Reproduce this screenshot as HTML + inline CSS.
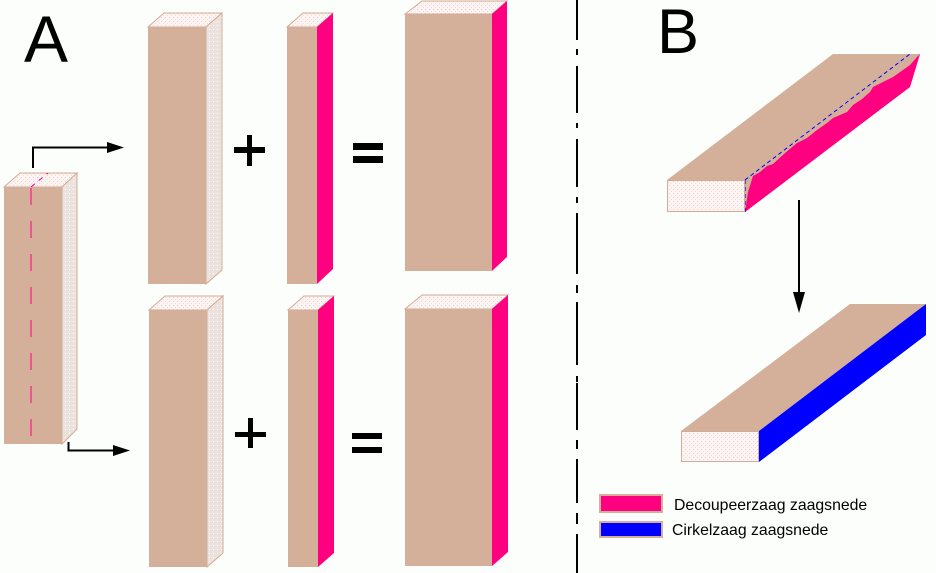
<!DOCTYPE html>
<html><head><meta charset="utf-8"><style>
html,body{margin:0;padding:0;background:#FCFEFC;}
svg{display:block;}
</style></head><body>
<svg width="936" height="573" viewBox="0 0 936 573" xmlns="http://www.w3.org/2000/svg">
<defs>
<pattern id="sd" width="4" height="4" patternUnits="userSpaceOnUse"><rect width="4" height="4" fill="#EBE2DE"/><rect x="1" y="1" width="1" height="1" fill="#FFFFFF"/></pattern>
<pattern id="td" width="4" height="4" patternUnits="userSpaceOnUse"><rect width="4" height="4" fill="#FBF4F2"/><rect x="1" y="1" width="1" height="1" fill="#EDCFCB"/><rect x="3" y="3" width="1" height="1" fill="#F3DEDA"/></pattern>
</defs>
<rect width="936" height="573" fill="#FCFEFC"/>

<!-- Letters -->
<text x="24" y="62" font-family="Liberation Sans, sans-serif" font-size="66">A</text>
<text x="657" y="53" font-family="Liberation Sans, sans-serif" font-size="63">B</text>

<!-- Left source block -->
<polygon points="4,187 20,173 77,173 62,187" fill="url(#td)" stroke="#D3AC94" stroke-width="1"/>
<polygon points="62,187 77,173 77,429 62,444" fill="url(#sd)" stroke="#D3AC94" stroke-width="1"/>
<rect x="4" y="187" width="58" height="257" fill="#D4B09A"/>
<line x1="31" y1="188" x2="31" y2="444" stroke="#FF0080" stroke-width="1" stroke-dasharray="17 16"/>
<line x1="31" y1="187" x2="48" y2="173" stroke="#FF0080" stroke-width="1" stroke-dasharray="5 5"/>

<!-- Left arrows -->
<polyline points="33,168 33,147.5 110,147.5" fill="none" stroke="#000" stroke-width="2"/>
<polygon points="107,142 124,147.5 107,153" fill="#000"/>
<polyline points="68.5,442 68.5,450.5 115,450.5" fill="none" stroke="#000" stroke-width="2"/>
<polygon points="113,445 130,450.5 113,456" fill="#000"/>

<!-- Top row -->
<polygon points="148,27 164,13 222,13 206,27" fill="url(#td)" stroke="#D3AC94" stroke-width="1"/>
<polygon points="206,27 222,13 222,270 206,284" fill="url(#sd)" stroke="#D3AC94" stroke-width="1"/>
<rect x="148" y="27" width="58" height="257" fill="#D4B09A"/>

<polygon points="287,27 303,13 333,13 317,27" fill="url(#td)" stroke="#D3AC94" stroke-width="1"/>
<polygon points="317,27 333,13 333,269 317,284" fill="#FF0080"/>
<rect x="287" y="27" width="30" height="257" fill="#D4B09A"/>

<polygon points="405,14 422,1 507,1 492,14" fill="url(#td)" stroke="#D3AC94" stroke-width="1"/>
<polygon points="492,14 507,1 507,257 492,271" fill="#FF0080"/>
<rect x="405" y="14" width="87" height="257" fill="#D4B09A"/>

<rect x="234" y="147" width="31" height="6" fill="#000"/>
<rect x="247" y="135" width="5" height="31" fill="#000"/>
<rect x="353" y="143" width="30" height="7" fill="#000"/>
<rect x="353" y="156" width="30" height="7" fill="#000"/>

<!-- Bottom row -->
<polygon points="149,310 165,296 223,296 207,310" fill="url(#td)" stroke="#D3AC94" stroke-width="1"/>
<polygon points="207,310 223,296 223,553 207,567" fill="url(#sd)" stroke="#D3AC94" stroke-width="1"/>
<rect x="149" y="310" width="58" height="257" fill="#D4B09A"/>

<polygon points="288,310 304,296 334,296 318,310" fill="url(#td)" stroke="#D3AC94" stroke-width="1"/>
<polygon points="318,310 334,296 334,553 318,567" fill="#FF0080"/>
<rect x="288" y="310" width="30" height="257" fill="#D4B09A"/>

<polygon points="405,309 422,295 508,295 492,309" fill="url(#td)" stroke="#D3AC94" stroke-width="1"/>
<polygon points="492,309 508,295 508,552 492,566" fill="#FF0080"/>
<rect x="405" y="309" width="87" height="257" fill="#D4B09A"/>

<rect x="235" y="432" width="31" height="5" fill="#000"/>
<rect x="248" y="418" width="5" height="30" fill="#000"/>
<rect x="352" y="433" width="30" height="6" fill="#000"/>
<rect x="352" y="447" width="30" height="6" fill="#000"/>

<!-- Divider -->
<g fill="#000">
<rect x="576" y="0" width="2" height="40"/>
<rect x="576" y="49" width="2" height="6"/>
<rect x="576" y="66" width="2" height="47"/>
<rect x="576" y="123" width="2" height="5"/>
<rect x="576" y="139" width="2" height="48"/>
<rect x="576" y="197" width="2" height="6"/>
<rect x="576" y="213" width="2" height="61"/>
<rect x="576" y="285" width="2" height="8"/>
<rect x="576" y="302" width="2" height="63"/>
<rect x="576" y="376" width="2" height="6"/>
<rect x="576" y="383" width="2" height="47"/>
<rect x="576" y="440" width="2" height="9"/>
<rect x="576" y="459" width="2" height="44"/>
<rect x="576" y="513" width="2" height="11"/>
<rect x="576" y="534" width="2" height="39"/>
</g>

<!-- Plank B top -->
<polygon points="667,180 833,54 920,54 910,87 745,212 745,180" fill="#D4B09A"/>
<polygon points="745,212 748,192 753,176 760,172 767,166 773,164 785,153 797,143 807,138 817,130 827,123 833,118 847,112 853,105 862,99 870,92 873,87 883,82 893,77 903,70 910,65 917,57 920,54 910,87" fill="#FF0080"/>
<line x1="745" y1="180" x2="910" y2="54" stroke="#0000FF" stroke-width="1" stroke-dasharray="4 3"/>
<line x1="745" y1="180" x2="745" y2="212" stroke="#0000FF" stroke-width="1.2" stroke-dasharray="4 3"/>
<rect x="667.5" y="180.5" width="77" height="31" fill="url(#td)" stroke="#D3AC94" stroke-width="1"/>

<!-- B arrow -->
<line x1="799" y1="200" x2="799" y2="296" stroke="#000" stroke-width="2"/>
<polygon points="793,292 805,292 799,313" fill="#000"/>

<!-- Plank B bottom -->
<polygon points="681,431 850,304 926,304 759,431" fill="#D4B09A"/>
<polygon points="759,431 926,304 926,335 759,462" fill="#0000FF"/>
<rect x="681.5" y="431.5" width="77" height="30" fill="url(#td)" stroke="#D3AC94" stroke-width="1"/>

<!-- Legend -->
<rect x="600" y="495" width="62" height="17" fill="#FF0080" stroke="#D4B09A" stroke-width="2"/>
<rect x="600" y="522" width="62" height="15" fill="#0000FF" stroke="#D4B09A" stroke-width="2"/>
<text x="674" y="510" font-family="Liberation Sans, sans-serif" font-size="15.8" fill="#000">Decoupeerzaag zaagsnede</text>
<text x="672" y="535" font-family="Liberation Sans, sans-serif" font-size="15.8" fill="#000">Cirkelzaag zaagsnede</text>
</svg>
</body></html>
